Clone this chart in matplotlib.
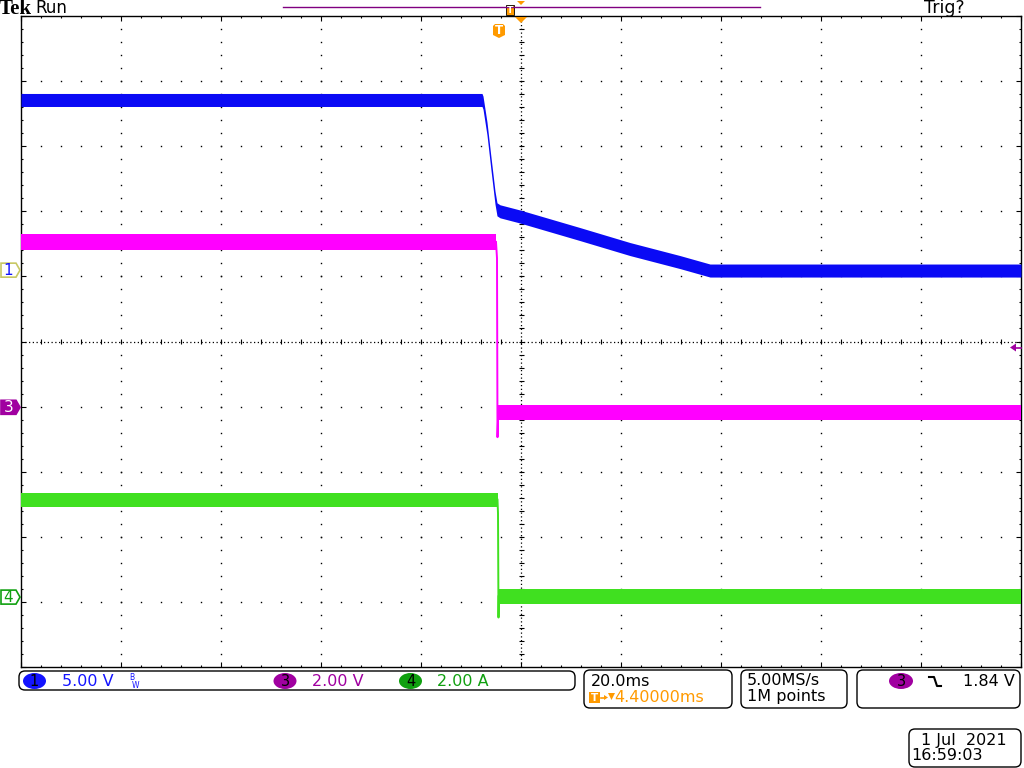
import numpy as np
import matplotlib
matplotlib.use('Agg')
import matplotlib.pyplot as plt
from matplotlib.patches import FancyBboxPatch, Ellipse, Polygon, Rectangle
from matplotlib.collections import LineCollection
from matplotlib.ticker import FixedLocator, NullFormatter

# ---------------- data (time in ms relative to trigger) ----------------
ch1_t = [-95.6, -3.4, -3.2, -2.4, -1.6, -0.8, -0.4, 0.2, 4.2, 16.2, 26.2, 36.2, 42.2, 104.4]
ch1_v = [13.1, 13.1, 12.9, 10.9, 8.2, 5.6, 4.7, 4.55, 4.15, 2.8, 1.65, 0.65, 0.0, 0.0]

ch3_t = [-95.6, -0.6, -0.4, -0.3, -0.15, 104.4]
ch3_v = [5.1, 5.1, 4.6, -0.9, -0.15, -0.15]

ch4_t = [-95.6, -0.3, -0.2, -0.1, -0.05, 104.4]
ch4_v = [3.02, 3.02, 2.6, -0.6, 0.05, 0.05]

ch1_scale, ch1_offset = 5.0, 1.09     # V/div, div
ch3_scale, ch3_offset = 2.0, -1.02
ch4_scale, ch4_offset = 2.0, -3.94
trig_level = 1.84                      # V on ch3
time_per_div = 20.0                    # ms/div
trig_delay = 4.4                       # ms

# ---------------- colours ----------------
BLUE = '#0A0AF5'
MAG = '#FF00FF'
GREEN = '#40E020'
PURPLE = '#A000A0'
DGREEN = '#10A010'
TBLUE = '#1414FF'
ORANGE = '#FF9A00'

W, H = 1024, 768
fig = plt.figure(figsize=(10.24, 7.68), dpi=100)
fig.patch.set_facecolor('white')

gx0, gx1, gy0, gy1 = 21, 1021, 16, 667
ax = fig.add_axes([gx0 / W, 1 - gy1 / H, (gx1 - gx0) / W, (gy1 - gy0) / H])
xmin = trig_delay - 5 * time_per_div
xmax = trig_delay + 5 * time_per_div
ax.set_xlim(xmin, xmax)
ax.set_ylim(-5, 5)
ax.set_facecolor('white')
for s in ax.spines.values():
    s.set_linewidth(1.0)
    s.set_color('black')

major_x = [xmin + k * time_per_div for k in range(11)]
minor_x = [xmin + j * time_per_div / 5 for j in range(51)]
major_y = list(range(-5, 6))
minor_y = [-5 + j * 0.2 for j in range(51)]
ax.xaxis.set_major_locator(FixedLocator(major_x))
ax.xaxis.set_minor_locator(FixedLocator(minor_x))
ax.yaxis.set_major_locator(FixedLocator(major_y))
ax.yaxis.set_minor_locator(FixedLocator(minor_y))
ax.xaxis.set_major_formatter(NullFormatter())
ax.yaxis.set_major_formatter(NullFormatter())
ax.tick_params(which='both', direction='in', top=True, right=True, bottom=True, left=True,
               color='black', width=0.8)
ax.tick_params(which='major', length=3.5)
ax.tick_params(which='minor', length=1.3)

# graticule dots
gxs, gys = [], []
for k in range(1, 10):
    if k == 5:
        continue
    for yy in minor_y[1:-1]:
        gxs.append(major_x[k]); gys.append(yy)
for yv in range(-4, 5):
    if yv == 0:
        continue
    for xx in minor_x[1:-1]:
        gxs.append(xx); gys.append(yv)
ax.plot(gxs, gys, ls='none', marker='s', ms=1.0, mew=0, color='black', zorder=1)

# centre lines
ax.axvline(trig_delay, color='black', lw=0.9, ls=(0, (1, 2)), zorder=1)
ax.axhline(0, color='black', lw=0.9, ls=(0, (1, 2)), zorder=1)
segs = []
dx = 2.5 * time_per_div / 100.0
dy = 2.5 / 65.0
for yy in minor_y[1:-1]:
    segs.append([(trig_delay - dx, yy), (trig_delay + dx, yy)])
for xx in minor_x[1:-1]:
    segs.append([(xx, -dy), (xx, dy)])
ax.add_collection(LineCollection(segs, colors='black', linewidths=0.8, zorder=1))


def to_div(v, scale, offset):
    return np.asarray(v, float) / scale + offset


def band(t, y, half_px, color):
    h = half_px / 65.0
    ax.fill_between(t, y - h, y + h, color=color, lw=0, zorder=3)


# channel 1 (whole trace as a noisy band)
y1 = to_div(ch1_v, ch1_scale, ch1_offset)
band(np.array(ch1_t), y1, 6.5, BLUE)

# channel 3
t3 = np.array(ch3_t)
y3 = to_div(ch3_v, ch3_scale, ch3_offset)
band(t3[0:2], y3[0:2], 8.0, MAG)
band(t3[4:6], y3[4:6], 7.5, MAG)
ax.plot(t3[1:5], y3[1:5], color=MAG, lw=1.4, zorder=3)

# channel 4
t4 = np.array(ch4_t)
y4 = to_div(ch4_v, ch4_scale, ch4_offset)
band(t4[0:2], y4[0:2], 7.0, GREEN)
band(t4[4:6], y4[4:6], 7.5, GREEN)
ax.plot(t4[1:5], y4[1:5], color=GREEN, lw=1.4, zorder=3)

# ---------------- overlay (screen annotations) ----------------
ov = fig.add_axes([0, 0, 1, 1])
ov.set_xlim(0, W)
ov.set_ylim(H, 0)
ov.axis('off')
ov.patch.set_alpha(0)

FS = 11.5
fam = 'DejaVu Sans'

ov.text(-1, 9, 'Tek', fontsize=15, fontweight='bold', family='Liberation Serif', ha='left', va='center')
ov.text(35, 8, 'Run', fontsize=12, family=fam, ha='left', va='center')
ov.text(924, 8, 'Trig?', fontsize=12.5, family=fam, ha='left', va='center')

# record bar & trigger markers at top
ov.plot([283, 760], [7, 7], color='#800080', lw=1.0)
ov.add_patch(Rectangle((506, 5), 8, 10, fc=ORANGE, ec='black', lw=0.6))
ov.text(510, 10.5, 'T', color='white', fontsize=6.5, fontweight='bold', ha='center', va='center')
ov.add_patch(Polygon([(517, 1), (525, 1), (521, 5)], closed=True, fc=ORANGE, ec='none'))
ov.add_patch(Polygon([(515, 17), (527, 17), (521, 23)], closed=True, fc=ORANGE, ec='none'))
ov.add_patch(Polygon([(493, 26), (495, 24), (503, 24), (505, 26), (505, 35), (499, 38), (493, 35)],
                     closed=True, fc=ORANGE, ec='none'))
ov.text(499, 30.5, 'T', color='white', fontsize=8.5, fontweight='bold', ha='center', va='center')

# channel markers on the left
def marker(yc, fc, ec, txt, tc):
    pts = [(1, yc - 7), (16, yc - 7), (20, yc), (16, yc + 7), (1, yc + 7)]
    ov.add_patch(Polygon(pts, closed=True, fc=fc, ec=ec, lw=1.2))
    ov.text(8.5, yc + 0.5, txt, color=tc, fontsize=11, family=fam, ha='center', va='center')

ych1 = gy0 + (5 - ch1_offset) * 65
ych3 = gy0 + (5 - ch3_offset) * 65
ych4 = gy0 + (5 - ch4_offset) * 65
marker(ych1, 'white', '#C8C864', '1', TBLUE)
marker(ych3, PURPLE, PURPLE, '3', 'white')
marker(ych4, 'white', DGREEN, '4', DGREEN)

# trigger level marker at right
ytr = gy0 + (5 - (trig_level / ch3_scale + ch3_offset)) * 65
ov.add_patch(Polygon([(1010, ytr), (1016, ytr - 4), (1016, ytr + 4)], closed=True, fc=PURPLE, ec='none'))
ov.plot([1016, 1021], [ytr, ytr], color=PURPLE, lw=1.2)

# bottom status boxes
def rbox(x, y, w, h):
    ov.add_patch(FancyBboxPatch((x, y), w, h, boxstyle='round,pad=0,rounding_size=6',
                                fc='none', ec='black', lw=1.0))

rbox(19, 671, 556, 19)
rbox(584, 670, 148, 38)
rbox(741, 670, 106, 38)
rbox(857, 670, 163, 38)
rbox(909, 729, 112, 38)

def chip(xc, yc, fc, txt):
    ov.add_patch(Ellipse((xc, yc), 23, 16, fc=fc, ec='none'))
    ov.text(xc, yc + 0.5, txt, color='black', fontsize=10.5, family=fam, ha='center', va='center')

chip(34.5, 681, TBLUE, '1')
ov.text(62, 681, '5.00 V', color=TBLUE, fontsize=FS, family=fam, ha='left', va='center')
ov.text(129, 677.5, 'B', color=TBLUE, fontsize=5.5, family=fam, ha='left', va='center')
ov.text(132, 685, 'W', color=TBLUE, fontsize=5.5, family=fam, ha='left', va='center')
chip(285, 681, PURPLE, '3')
ov.text(312, 681, '2.00 V', color=PURPLE, fontsize=FS, family=fam, ha='left', va='center')
chip(410.5, 681, DGREEN, '4')
ov.text(437, 681, '2.00 A', color=DGREEN, fontsize=FS, family=fam, ha='left', va='center')

ov.text(591, 681, '20.0ms', color='black', fontsize=FS, family=fam, ha='left', va='center')
ov.add_patch(Rectangle((589, 692), 11, 11, fc=ORANGE, ec='none'))
ov.text(594.5, 698, 'T', color='white', fontsize=7.5, fontweight='bold', ha='center', va='center')
ov.plot([601, 605], [697.5, 697.5], color=ORANGE, lw=1.2)
ov.add_patch(Polygon([(604, 695), (608, 697.5), (604, 700)], closed=True, fc=ORANGE, ec='none'))
ov.add_patch(Polygon([(608, 693), (615, 693), (611.5, 700)], closed=True, fc=ORANGE, ec='none'))
ov.text(614, 697, '4.40000ms', color=ORANGE, fontsize=FS, family=fam, ha='left', va='center')

ov.text(747, 681, '5.00MS/s', color='black', fontsize=FS, family=fam, ha='left', va='center')
ov.text(747, 697, '1M points', color='black', fontsize=FS, family=fam, ha='left', va='center')

ov.add_patch(Ellipse((901, 681), 24, 16, fc=PURPLE, ec='none'))
ov.text(901, 681.5, '3', color='black', fontsize=10.5, family=fam, ha='center', va='center')
ov.plot([929, 934, 937, 941], [677, 677, 686, 686], color='black', lw=1.5)
ov.text(963, 681, '1.84 V', color='black', fontsize=FS, family=fam, ha='left', va='center')

ov.text(921, 740, '1 Jul  2021', color='black', fontsize=FS, family=fam, ha='left', va='center')
ov.text(911, 755, '16:59:03', color='black', fontsize=FS, family=fam, ha='left', va='center')

fig.savefig('out.png', dpi=100, facecolor='white')
